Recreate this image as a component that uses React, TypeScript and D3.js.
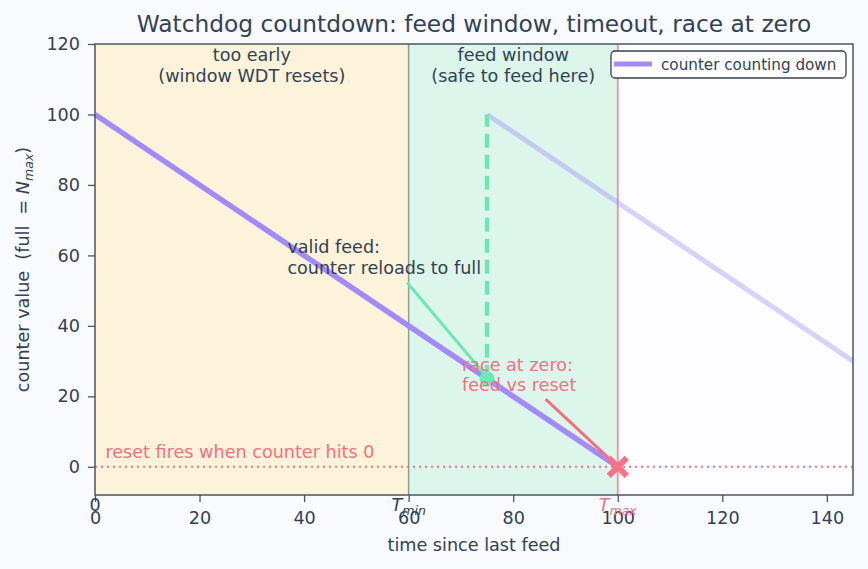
import React, { useRef, useEffect } from 'react';
import * as d3 from 'd3';

// data
const countdownX = [0, 100];
const countdownY = [100, 0];
const reloadX = [75, 145];
const reloadY = [100, 30];
const feedTime = 75;
const feedValue = 25;
const tMin = 60;
const tMax = 100;
const xTicks = [0, 20, 40, 60, 80, 100, 120, 140];
const yTicks = [0, 20, 40, 60, 80, 100, 120];
const zoneLabels = [
  { x0: 0, x1: 60, lines: ['too early', '(window WDT resets)'], fill: '#fcf3da' },
  { x0: 60, x1: 100, lines: ['feed window', '(safe to feed here)'], fill: '#dcf6ec' },
];

const W = 868;
const H = 569;
const margin = { left: 95, right: 15, top: 44, bottom: 74 };
const textColor = '#334155';
const spine = '#4b5563';
const purple = '#a28bf8';
const green = '#6ee7b7';
const red = '#f4707f';
const font = 'DejaVu Sans, sans-serif';
const fs = 17.6;

const App: React.FC = () => {
  const gx = useRef<SVGGElement | null>(null);
  const gy = useRef<SVGGElement | null>(null);

  const x = d3.scaleLinear().domain([0, 145]).range([margin.left, W - margin.right]);
  const y = d3.scaleLinear().domain([-8, 120]).range([H - margin.bottom, margin.top]);

  const toPath = d3.line<[number, number]>().x((d) => x(d[0])).y((d) => y(d[1]));
  const countdownPath = toPath(countdownX.map((v, i) => [v, countdownY[i]] as [number, number]));
  const reloadPath = toPath(reloadX.map((v, i) => [v, reloadY[i]] as [number, number]));

  useEffect(() => {
    if (gx.current) {
      const s = d3.select(gx.current);
      s.call(d3.axisBottom(x).tickValues(xTicks).tickSize(7).tickPadding(10).tickFormat(d3.format('d')));
      s.select('.domain').remove();
      s.selectAll('line').attr('stroke', spine).attr('stroke-width', 1.3);
      s.selectAll('text').attr('fill', textColor).style('font-size', `${fs}px`).style('font-family', font);
    }
    if (gy.current) {
      const s = d3.select(gy.current);
      s.call(d3.axisLeft(y).tickValues(yTicks).tickSize(7).tickPadding(8).tickFormat(d3.format('d')));
      s.select('.domain').remove();
      s.selectAll('line').attr('stroke', spine).attr('stroke-width', 1.3);
      s.selectAll('text').attr('fill', textColor).style('font-size', `${fs}px`).style('font-family', font);
    }
  }, [x, y]);

  const plotW = W - margin.left - margin.right;
  const plotH = H - margin.top - margin.bottom;
  const mx = x(tMax);
  const my = y(0);
  const bottom = margin.top + plotH;

  return (
    <svg
      width={W}
      height={H}
      style={{ position: 'absolute', left: 0, top: 0, background: '#f9fafd', fontFamily: font }}
    >
      <rect x={0} y={0} width={W} height={H} fill='#f9fafd' />
      <rect x={margin.left} y={margin.top} width={plotW} height={plotH} fill='#fdfdff' />
      {zoneLabels.map((z, i) => (
        <g key={i}>
          <rect x={x(z.x0)} y={margin.top} width={x(z.x1) - x(z.x0)} height={plotH} fill={z.fill} />
          {z.lines.map((t, j) => (
            <text
              key={j}
              x={(x(z.x0) + x(z.x1)) / 2}
              y={margin.top + 17 + j * 21}
              textAnchor='middle'
              fontSize={fs}
              fill={textColor}
            >
              {t}
            </text>
          ))}
        </g>
      ))}
      <line x1={x(tMin)} x2={x(tMin)} y1={margin.top} y2={bottom} stroke='#8fa08f' strokeWidth={1.5} />
      <line x1={x(tMax)} x2={x(tMax)} y1={margin.top} y2={bottom} stroke='#f2909c' strokeWidth={1.8} />
      <line
        x1={margin.left}
        x2={margin.left + plotW}
        y1={y(0)}
        y2={y(0)}
        stroke={red}
        strokeWidth={2}
        strokeDasharray='2 4'
      />
      <text x={x(2)} y={y(2.5)} fontSize={fs} fill={red}>
        reset fires when counter hits 0
      </text>
      <path d={reloadPath ?? ''} stroke={purple} strokeOpacity={0.4} strokeWidth={5} fill='none' />
      <path d={countdownPath ?? ''} stroke={purple} strokeWidth={5.5} fill='none' />
      <line
        x1={x(feedTime)}
        x2={x(feedTime)}
        y1={y(feedValue)}
        y2={y(100)}
        stroke={green}
        strokeWidth={4.5}
        strokeDasharray='14 7'
      />
      <circle cx={x(feedTime)} cy={y(feedValue)} r={7.5} fill={green} />
      {/* annotations */}
      <text x={x(36.8)} y={y(60.7)} fontSize={fs} fill={textColor}>
        <tspan x={x(36.8)}>valid feed:</tspan>
        <tspan x={x(36.8)} dy={21}>counter reloads to full</tspan>
      </text>
      <line x1={x(59.7)} y1={y(52.3)} x2={x(feedTime - 0.6)} y2={y(feedValue + 1.5)} stroke={green} strokeWidth={3} />
      <text x={x(70.2)} y={y(27.2)} fontSize={fs} fill={red}>
        <tspan x={x(70.2)}>race at zero:</tspan>
        <tspan x={x(70.2)} dy={20}>feed vs reset</tspan>
      </text>
      <line x1={x(86.2)} y1={y(19.2)} x2={mx - 5} y2={my - 5} stroke={red} strokeWidth={3} />
      <path
        d={`M${mx - 9},${my - 9}L${mx + 9},${my + 9}M${mx - 9},${my + 9}L${mx + 9},${my - 9}`}
        stroke='#fb7185'
        strokeWidth={6}
      />
      {/* frame */}
      <rect x={margin.left} y={margin.top} width={plotW} height={plotH} fill='none' stroke={spine} strokeWidth={1.5} />
      <g ref={gx} transform={`translate(0,${bottom})`} />
      <g ref={gy} transform={`translate(${margin.left},0)`} />
      {/* special x labels */}
      <text x={x(0)} y={bottom + 16} textAnchor='middle' fontSize={fs} fill={textColor}>
        0
      </text>
      <text x={x(tMin)} y={bottom + 16} textAnchor='middle' fontSize={fs} fill={textColor}>
        <tspan fontStyle='italic'>T</tspan>
        <tspan fontStyle='italic' fontSize={12.5} dy={4}>min</tspan>
      </text>
      <text x={x(tMax)} y={bottom + 16} textAnchor='middle' fontSize={fs} fill={red}>
        <tspan fontStyle='italic'>T</tspan>
        <tspan fontStyle='italic' fontSize={12.5} dy={4}>max</tspan>
      </text>
      {/* legend */}
      <rect x={611} y={51} width={235} height={27} rx={4} fill='#fdfdff' stroke='#374151' strokeWidth={1.3} />
      <line x1={614} x2={652} y1={64} y2={64} stroke={purple} strokeWidth={5} />
      <text x={661} y={69.5} fontSize={15.2} fill={textColor}>
        counter counting down
      </text>
      {/* titles */}
      <text x={(margin.left + W - margin.right) / 2} y={32} textAnchor='middle' fontSize={23.3} fill={textColor}>
        Watchdog countdown: feed window, timeout, race at zero
      </text>
      <text x={(margin.left + W - margin.right) / 2} y={551} textAnchor='middle' fontSize={fs} fill={textColor}>
        time since last feed
      </text>
      <text
        transform={`translate(29,${(margin.top + bottom) / 2}) rotate(-90)`}
        textAnchor='middle'
        fontSize={fs}
        fill={textColor}
        style={{ whiteSpace: 'pre' }}
      >
        {'counter value  (full  = '}
        <tspan fontStyle='italic'>N</tspan>
        <tspan fontStyle='italic' fontSize={12.5} dy={4}>max</tspan>
        <tspan dy={-4}>)</tspan>
      </text>
    </svg>
  );
};

export default App;
